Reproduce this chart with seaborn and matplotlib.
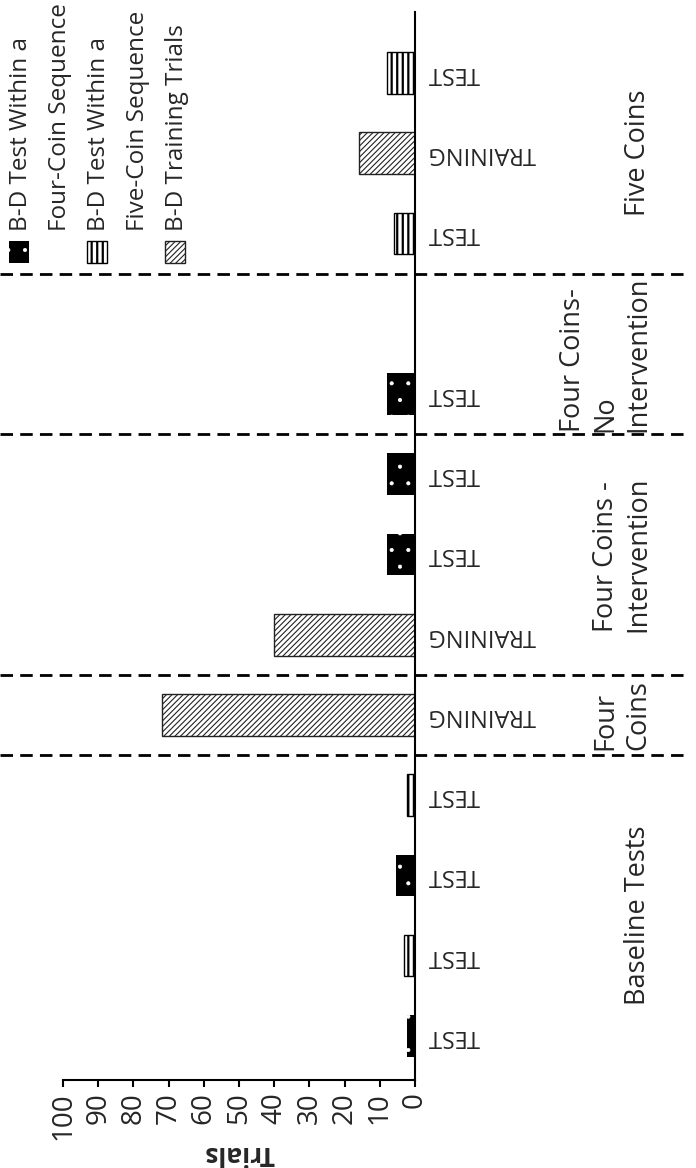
import pandas as pd
import seaborn as sns
import matplotlib.pyplot as plt
import matplotlib.transforms as mtransforms
from matplotlib.patches import Rectangle

# 数据：从下往上（原图逆时针旋转了90度）
group_names = ['Baseline Tests', 'Four\nCoins', 'Four Coins -\nIntervention',
               'Four Coins-\nNo\nIntervention', 'Five Coins']
bar_group = [0, 0, 0, 0, 1, 2, 2, 2, 3, 4, 4, 4]
bar_labels = ['TEST', 'TEST', 'TEST', 'TEST', 'TRAINING', 'TRAINING',
              'TEST', 'TEST', 'TEST', 'TEST', 'TRAINING', 'TEST']
bar_series = ['four', 'five', 'four', 'five', 'train', 'train',
              'four', 'four', 'four', 'five', 'train', 'five']
trials = [2.3, 3.1, 5.4, 2.3, 72, 40, 8, 8, 8, 6, 16, 8]
gap_after_group = [3]  # 空位

series_order = ['four', 'five', 'train']
series_names = ['B-D Test Within a\nFour-Coin Sequence',
                'B-D Test Within a\nFive-Coin Sequence',
                'B-D Training Trials']
x_ticks = list(range(0, 101, 10))

# 样式
styles = {
    'four': dict(facecolor='black', edgecolor='white', hatch='.', linewidth=0, hlw=0.5),
    'five': dict(facecolor='white', edgecolor='black', hatch='|||', linewidth=1.0, hlw=1.6),
    'train': dict(facecolor='white', edgecolor='#222222', hatch='//////', linewidth=1.0, hlw=0.8),
}

# 建立类别顺序（包括空位）
order, slot_keys, slot_group, labels = [], [], [], []
for g in range(len(group_names)):
    for i, bg in enumerate(bar_group):
        if bg == g:
            key = 'bar%d' % i
            order.append(key)
            slot_keys.append(key)
            slot_group.append(g)
            labels.append(bar_labels[i])
    if g in gap_after_group:
        order.append('gap%d' % g)
        slot_group.append(g)
        labels.append('')

df = pd.DataFrame({'slot': slot_keys, 'trials': trials, 'series': bar_series})

sns.set_theme(style='white')
plt.rcParams['font.family'] = ['Open Sans', 'DejaVu Sans']
plt.rcParams['hatch.linewidth'] = 1.0

W, H = 696, 1168
fig = plt.figure(figsize=(W / 100, H / 100), dpi=100)
ax = fig.add_axes([63 / W, (H - 1080) / H, (415 - 63) / W, (1080 - 12) / H])


def style_patch(p, st):
    p.set_facecolor(st['facecolor'])
    p.set_edgecolor(st['edgecolor'])
    p.set_hatch(st['hatch'])
    p.set_linewidth(st['linewidth'])
    if hasattr(p, 'set_hatch_linewidth'):
        p.set_hatch_linewidth(st['hlw'])


for s in series_order:
    n0 = len(ax.patches)
    sns.barplot(data=df[df['series'] == s], x='trials', y='slot', order=order,
                orient='h', errorbar=None, width=0.52, ax=ax)
    for p in ax.patches[n0:]:
        style_patch(p, styles[s])

ax.set_xlim(100, 0)
ax.set_ylim(-0.55, 12.76)
ax.set_xticks(x_ticks)
ax.set_xticklabels([str(t) for t in x_ticks], rotation=90, fontsize=20)
ax.set_xlabel('Trials', rotation=180, fontsize=19, fontweight='bold', labelpad=0)
ax.set_ylabel('')
ax.yaxis.tick_right()
ax.set_yticks(range(len(order)))
ax.set_yticklabels(labels, rotation=180, fontsize=17, ha='left', va='center')
ax.tick_params(axis='y', length=0, pad=9)
ax.tick_params(axis='x', direction='out', length=5, width=1.5, color='black',
               pad=4, bottom=True)
for side in ['top', 'left']:
    ax.spines[side].set_visible(False)
for side in ['right', 'bottom']:
    ax.spines[side].set_visible(True)
    ax.spines[side].set_color('black')
    ax.spines[side].set_linewidth(1.5)
ax.grid(False)

# 组分隔线和组标签
trans = mtransforms.blended_transform_factory(ax.transAxes, ax.transData)
for g, name in enumerate(group_names):
    idx = [i for i, sg in enumerate(slot_group) if sg == g]
    lo, hi = min(idx), max(idx)
    if g < len(group_names) - 1:
        ax.axhline(hi + 0.5, xmin=-0.18, xmax=1.78, color='black', lw=2,
                   ls=(0, (4.5, 2.6)), clip_on=False)
    ax.text(1.673, (lo + hi) / 2, name, transform=trans, rotation=90,
            ha='right', va='center', multialignment='left', fontsize=19.5)

# 图例（旋转）
line_x = 21
for k, s in enumerate(series_order):
    st = styles[s]
    r = Rectangle(((line_x - 12) / W, 1 - 263 / H), 20 / W, 22 / H,
                  transform=fig.transFigure)
    style_patch(r, st)
    if s == 'four':
        r.set_linewidth(0)
    fig.add_artist(r)
    for line in series_names[k].split('\n'):
        fig.text(line_x / W, 1 - 231 / H, line, rotation=90, ha='center',
                 va='bottom', fontsize=17.5)
        line_x += 39

fig.savefig('out.png', dpi=100, facecolor='white')
